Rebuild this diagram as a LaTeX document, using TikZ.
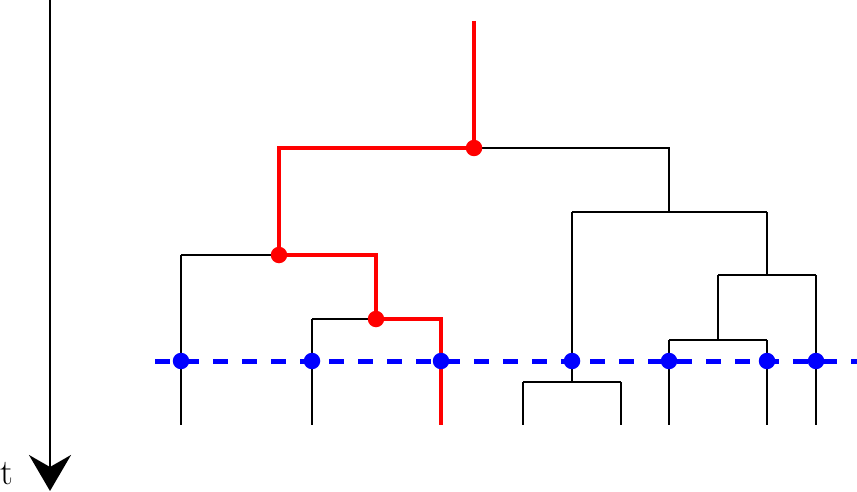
\documentclass[tikz,border=0pt]{standalone}
\usepackage{fontspec}
\setmainfont{Latin Modern Roman}
\usetikzlibrary{arrows.meta}
\begin{document}
\begin{tikzpicture}[x=1pt,y=-1pt,
  tree/.style={line width=2pt,black},
  path/.style={line width=3.6pt,red},
  reddot/.style={circle,fill=red,inner sep=0pt,minimum size=16.5pt},
  bluedot/.style={circle,fill=blue,inner sep=0pt,minimum size=16.5pt},
  cut/.style={line width=5pt,blue,dash pattern=on 15pt off 14pt}]
\useasboundingbox (0,0) rectangle (857,492);
% time axis
\coordinate (ttop) at (50,0);
\coordinate (tbot) at (50,491);
\draw[line width=2.2pt,-{Stealth[length=36pt,width=42pt,inset=12pt]}] (ttop) -- (tbot);
\node[anchor=base west,inner sep=0pt] (tlab) at (0,484) {\fontsize{36}{42}\selectfont t};
% coordinates of tree
\coordinate (rtop) at (474,21);
\coordinate (r) at (474,148);
\coordinate (rl) at (279,148);
\coordinate (rr) at (669,148);
\coordinate (a) at (279,255);
\coordinate (al) at (181,255);
\coordinate (ar) at (376,255);
\coordinate (b) at (376,319);
\coordinate (bl) at (312,319);
\coordinate (br) at (441,319);
\coordinate (l1) at (181,425);
\coordinate (l2) at (312,425);
\coordinate (l3) at (441,425);
\coordinate (c) at (669,212);
\coordinate (cl) at (572,212);
\coordinate (cr) at (767,212);
\coordinate (d) at (572,382);
\coordinate (dl) at (523,382);
\coordinate (dr) at (621,382);
\coordinate (l4) at (523,425);
\coordinate (l5) at (621,425);
\coordinate (e) at (767,275);
\coordinate (el) at (718,275);
\coordinate (er) at (816,275);
\coordinate (f) at (718,340);
\coordinate (fl) at (669,340);
\coordinate (fr) at (767,340);
\coordinate (l6) at (669,425);
\coordinate (l7) at (767,425);
\coordinate (l8) at (816,425);
% black tree
\draw[tree] (r) -- (rr) -- (c);
\draw[tree] (cl) -- (cr);
\draw[tree] (cl) -- (d);
\draw[tree] (dl) -- (dr);
\draw[tree] (dl) -- (l4);
\draw[tree] (dr) -- (l5);
\draw[tree] (cr) -- (e);
\draw[tree] (el) -- (er);
\draw[tree] (el) -- (f);
\draw[tree] (fl) -- (fr);
\draw[tree] (fl) -- (l6);
\draw[tree] (fr) -- (l7);
\draw[tree] (er) -- (l8);
\draw[tree] (al) -- (a);
\draw[tree] (al) -- (l1);
\draw[tree] (bl) -- (b);
\draw[tree] (bl) -- (l2);
% red path
\draw[path] (rtop) -- (r) -- (rl) -- (a) -- (ar) -- (b) -- (br) -- (l3);
% cut line
\coordinate (cutL) at (155,361);
\coordinate (cutR) at (857,361);
\draw[cut] (cutL) -- (cutR);
% dots
\node[reddot] (nr) at (r) {};
\node[reddot] (na) at (a) {};
\node[reddot] (nb) at (b) {};
\foreach \x/\n in {181/p1,312/p2,441/p3,572/p4,669/p5,767/p6,816/p7}
  \node[bluedot] (\n) at (\x,361) {};
\end{tikzpicture}
\end{document}
